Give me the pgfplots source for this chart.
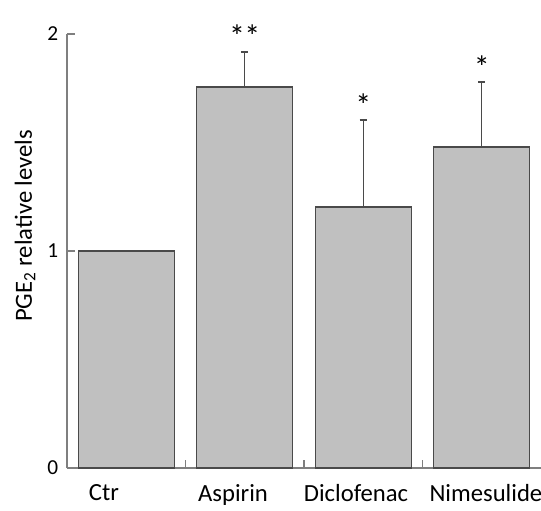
\documentclass[border=0pt]{standalone}
\usepackage{pgfplots}
\pgfplotsset{compat=1.18}
\usepackage{fontspec}
\setmainfont{Carlito}
\definecolor{axgray}{HTML}{7F7F7F}
\definecolor{bargray}{HTML}{C0C0C0}
\definecolor{edgegray}{HTML}{4A4A4A}
\begin{document}
\begin{tikzpicture}
\begin{axis}[
  name=ax,
  scale only axis,
  width=355.5pt, height=325.5pt,
  xmin=-0.5, xmax=3.5,
  ymin=0, ymax=2,
  axis x line*=bottom, axis y line*=left,
  axis line style={-, draw=axgray, line width=1.3pt},
  ytick={0,1,2},
  tick align=inside,
  major tick length=6pt,
  ytick style={draw=axgray, line width=1.3pt},
  xtick={0.5,1.5,2.5},
  xticklabels={},
  xtick style={draw=axgray, line width=1.3pt},
  extra x ticks={-0.188,0.901,1.939,3.035},
  extra x tick labels={Ctr,Aspirin,Diclofenac,Nimesulide},
  extra x tick style={major tick length=0pt, tick style={draw=none}},
  xticklabel style={font=\fontsize{18.5}{21}\selectfont, yshift=-9pt},
  yticklabel style={font=\fontsize{16}{19}\selectfont, xshift=-3pt},
  /pgf/number format/assume math mode=true,
  every axis y label/.style={at={(axis description cs:0,0.558)}, xshift=-31.5pt, rotate=90, anchor=center, font=\fontsize{18.5}{21}\selectfont},
  ylabel={PGE\textsubscript{2} relative levels},
  clip=false,
]
\addplot[ybar, bar width=0.81, fill=bargray, draw=edgegray, line width=0.9pt,
  error bars/.cd, y dir=plus, y explicit,
  error bar style={draw=edgegray, line width=1.1pt},
  error mark options={draw=edgegray, line width=1.1pt, rotate=90, mark size=2.7pt}]
  coordinates {
  (0,1.0) +- (0,0)
  (1,1.756) +- (0,0.161)
  (2,1.203) +- (0,0.40)
  (3,1.479) +- (0,0.300)
  };
\node[font=\fontsize{24}{27}\selectfont, anchor=center, inner sep=0pt] at (axis cs:1,1.99) {*\kern-0.5pt*};
\node[font=\fontsize{24}{27}\selectfont, anchor=center, inner sep=0pt] at (axis cs:2,1.67) {*};
\node[font=\fontsize{24}{27}\selectfont, anchor=center, inner sep=0pt] at (axis cs:3,1.845) {*};
\end{axis}
\pgfresetboundingbox
\path (ax.south west) ++(-50.25pt,-31.5pt) coordinate (bl);
\path (ax.north east) ++(0pt,25.5pt) coordinate (tr);
\useasboundingbox (bl) rectangle (tr);
\end{tikzpicture}
\end{document}
